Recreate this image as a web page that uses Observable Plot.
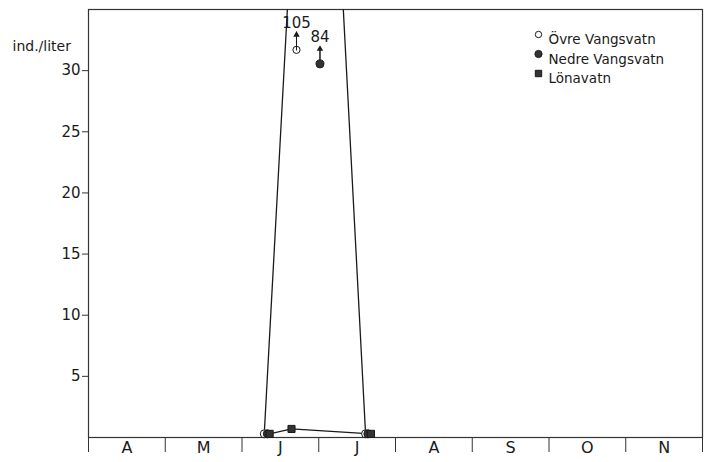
<!DOCTYPE html>
<html><head><meta charset="utf-8">
<script src="https://cdn.jsdelivr.net/npm/d3@7"></script>
<script src="https://cdn.jsdelivr.net/npm/@observablehq/plot@0.6"></script>
<style>body{margin:0;background:#fff;} #chart{width:716px;height:462px;}</style>
</head><body><div id="chart"></div>
<script>
// x position in months: 0 = 1 April ... 8 = 1 December
const months = ["A","M","J","J","A","S","O","N"];
const yTicks = [5,10,15,20,25,30];
const yLabel = "ind./liter";
const seriesNames = ["Övre Vangsvatn","Nedre Vangsvatn","Lönavatn"];

const ovreMonth = [2.29, 3.61];
const ovreValue = [0.3, 0.3];
const nedreMonth = [2.33, 3.64];
const nedreValue = [0.3, 0.3];
const lonaMonth = [2.36, 2.645, 3.68];
const lonaValue = [0.3, 0.7, 0.3];

// off-scale peaks (true value, value where the marker is drawn)
const peakMonth = [2.71, 3.016];
const peakValue = [105, 84];
const peakShown = [31.7, 30.55];
const peakLabel = ["105", "84"];

// lines drawn to/from the off-scale peaks
const riseMonth = [2.29, 3.016];
const riseValue = [0.3, 84];
const fallMonth = [2.735, 3.61];
const fallValue = [105, 0.3];

const zip = (ms, vs) => ms.map((m, i) => ({m, v: vs[i]}));
const ovre = zip(ovreMonth, ovreValue);
const nedre = zip(nedreMonth, nedreValue);
const lona = zip(lonaMonth, lonaValue);
const rise = zip(riseMonth, riseValue);
const fall = zip(fallMonth, fallValue);
const peaks = peakMonth.map((m, i) => ({m, v: peakValue[i], shown: peakShown[i], label: peakLabel[i], series: seriesNames[i]}));

const ink = "#1a1a1a";
const legendSymbols = [
  {symbol: "circle", r: 3.2, fill: "white", stroke: ink},
  {symbol: "circle", r: 3.6, fill: "#333", stroke: ink},
  {symbol: "square", r: 3.6, fill: "#333", stroke: ink}
];
const legendMarks = seriesNames.flatMap((name, i) => [
  Plot.dot([name], {frameAnchor: "top-left", dx: 450, dy: 25 + 19.5 * i, ...legendSymbols[i], strokeWidth: 1}),
  Plot.text([name], {frameAnchor: "top-left", dx: 460, dy: 25 + 19.5 * i, text: d => d, textAnchor: "start", fontSize: 13.5, fill: ink})
]);

const chart = Plot.plot({
  width: 716,
  height: 462,
  marginLeft: 88,
  marginRight: 14,
  marginTop: 9,
  marginBottom: 25,
  style: {fontFamily: "'DejaVu Sans', sans-serif", fontSize: "15px", color: ink, background: "white"},
  x: {domain: [0, 8]},
  y: {domain: [0, 35]},
  marks: [
    Plot.frame({stroke: "#333", strokeWidth: 1.2}),
    Plot.axisY({ticks: yTicks, tickSize: 6, tickPadding: 2, fontSize: 15, label: null, stroke: "#333"}),
    Plot.axisX({ticks: d3.range(0, 9), tickSize: 15, tickFormat: () => "", label: null, stroke: "#333"}),
    Plot.axisX({ticks: months.map((_, i) => i + 0.5), tickSize: 0, tickPadding: 4, tickFormat: d => months[Math.floor(d)], fontSize: 16, label: null}),
    Plot.text([yLabel], {frameAnchor: "top-left", dx: -76, dy: 32, text: d => d, textAnchor: "start", fontSize: 14, fill: ink}),
    Plot.line(rise, {x: "m", y: "v", stroke: ink, strokeWidth: 1.3, clip: true}),
    Plot.line(fall, {x: "m", y: "v", stroke: ink, strokeWidth: 1.3, clip: true}),
    Plot.line(lona, {x: "m", y: "v", stroke: ink, strokeWidth: 1.3}),
    Plot.ruleX(peaks, {x: "m", y1: "shown", y2: "shown", dy: 0, stroke: ink}),
    Plot.vector(peaks, {x: "m", y: "shown", length: 14, rotate: 0, anchor: "start", shape: "spike", r: 0.01, stroke: ink, strokeWidth: 1}),
    Plot.dot(peaks, {x: "m", y: "shown", symbol: "triangle", r: 2.4, dy: -15, fill: ink, stroke: "none"}),
    Plot.text(peaks, {x: "m", y: "shown", text: "label", dy: -27, fontSize: 15, fill: ink}),
    Plot.dot(ovre, {x: "m", y: "v", r: 4, fill: "white", stroke: ink, strokeWidth: 1}),
    Plot.dot(nedre, {x: "m", y: "v", r: 4, fill: "#333", stroke: ink, strokeWidth: 1}),
    Plot.dot(lona, {x: "m", y: "v", symbol: "square", r: 4, fill: "#333", stroke: ink, strokeWidth: 1}),
    Plot.dot(peaks.filter(d => d.series === seriesNames[0]), {x: "m", y: "shown", r: 3.6, fill: "none", stroke: ink, strokeWidth: 1}),
    Plot.dot(peaks.filter(d => d.series === seriesNames[1]), {x: "m", y: "shown", r: 4, fill: "#333", stroke: ink, strokeWidth: 1}),
    ...legendMarks
  ]
});
document.getElementById("chart").append(chart);
</script>
</body></html>
